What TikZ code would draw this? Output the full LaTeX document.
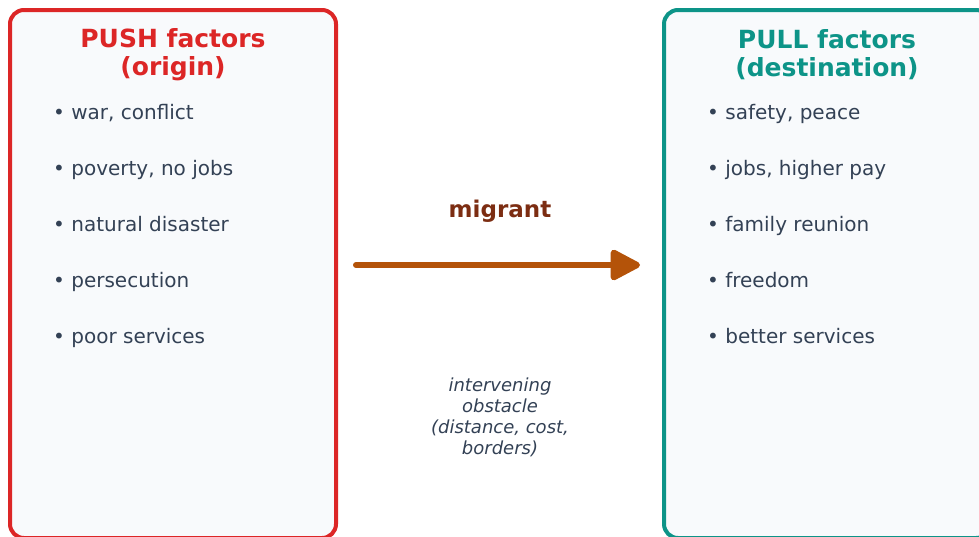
\documentclass[tikz,border=0pt]{standalone}
\usepackage{fontspec}
\setmainfont{DejaVu Sans}
\usetikzlibrary{arrows.meta}
\definecolor{pushred}{HTML}{DC2626}
\definecolor{pullteal}{HTML}{0D9488}
\definecolor{boxfill}{HTML}{F8FAFC}
\definecolor{itemgray}{HTML}{334155}
\definecolor{migbrown}{HTML}{7C2D12}
\definecolor{arrowbrown}{HTML}{B45309}
\begin{document}
\begin{tikzpicture}[x=1pt,y=-1pt,
  factorbox/.style={draw,line width=4pt,rounded corners=14pt,fill=boxfill,minimum width=326pt,minimum height=528pt,inner sep=0pt},
  heading/.style={font=\fontsize{25}{28}\selectfont\bfseries,align=center,inner sep=0pt},
  item/.style={anchor=base west,font=\fontsize{20}{24}\selectfont,text=itemgray,inner sep=0pt},
  migrate/.style={draw=arrowbrown,line width=6pt,line cap=round,-{Triangle[length=33pt,width=33pt,round]}}]
  \useasboundingbox (0,0) rectangle (979,536);
  \node[factorbox,draw=pushred] (push) at (173,274) {};
  \node[factorbox,draw=pullteal] (pull) at (827,274) {};
  \node[heading,text=pushred] (pushtitle) at (173,55) {PUSH factors\\(origin)};
  \node[heading,text=pullteal] (pulltitle) at (827,55) {PULL factors\\(destination)};
  % push side
  \node[item] (push1) at (53,119) {• war, conflict};
  \node[item] (push2) at (53,175) {• poverty, no jobs};
  \node[item] (push3) at (53,231) {• natural disaster};
  \node[item] (push4) at (53,287) {• persecution};
  \node[item] (push5) at (53,343) {• poor services};
  % pull side
  \node[item] (pull1) at (707,119) {• safety, peace};
  \node[item] (pull2) at (707,175) {• jobs, higher pay};
  \node[item] (pull3) at (707,231) {• family reunion};
  \node[item] (pull4) at (707,287) {• freedom};
  \node[item] (pull5) at (707,343) {• better services};
  % the move between them
  \coordinate (mfrom) at (356,265);
  \coordinate (mto) at (640,265);
  \draw[migrate] (mfrom) -- (mto);
  \node[font=\fontsize{23}{26}\selectfont\bfseries,text=migbrown,anchor=base,inner sep=0pt] (migrant) at (500,217) {migrant};
  \node[font=\fontsize{18}{21}\selectfont\itshape,text=itemgray,align=center,inner sep=0pt] (obstacle) at (500,417) {intervening\\obstacle\\(distance, cost,\\borders)};
\end{tikzpicture}
\end{document}
